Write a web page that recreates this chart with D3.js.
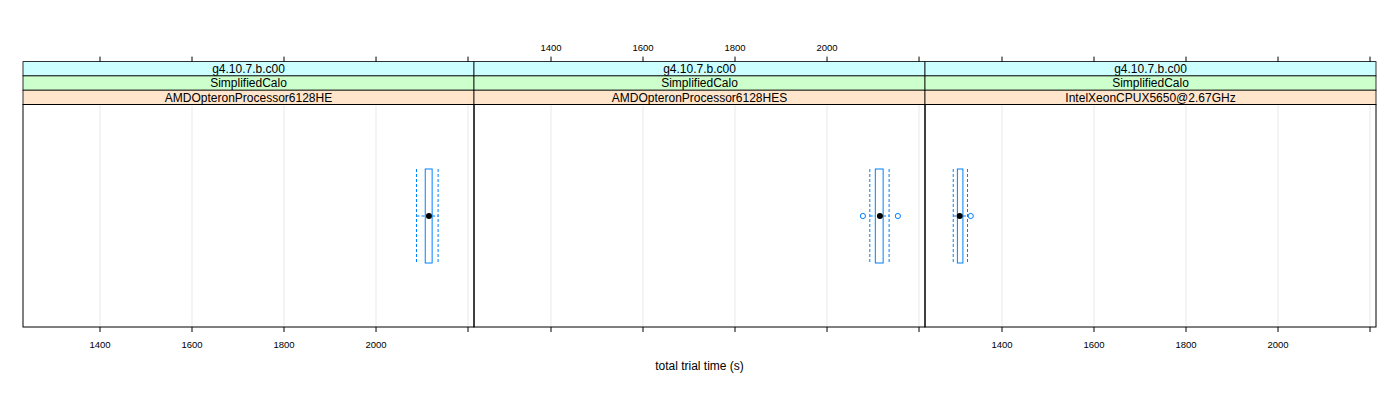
<!DOCTYPE html>
<html>
<head>
<meta charset="utf-8">
<script src="https://d3js.org/d3.v7.min.js"></script>
<style>
  body { margin: 0; background: #fff; }
  text { font-family: "Liberation Sans", Arial, sans-serif; }
</style>
</head>
<body>
<svg id="vis"></svg>
<script>
  // strip labels (top to bottom) for each panel
  var versions = ["g4.10.7.b.c00", "g4.10.7.b.c00", "g4.10.7.b.c00"];
  var apps = ["SimplifiedCalo", "SimplifiedCalo", "SimplifiedCalo"];
  var cpus = ["AMDOpteronProcessor6128HE", "AMDOpteronProcessor6128HES", "IntelXeonCPUX5650@2.67GHz"];

  // box statistics per panel: lower whisker, Q1, median, Q3, upper whisker
  var lowerWhisker = [2088, 2093, 1294];
  var q1 = [2107, 2105, 1303];
  var medians = [2115, 2115, 1308];
  var q3 = [2122, 2122, 1315];
  var upperWhisker = [2135, 2135, 1325];
  var outliers = [[], [2078, 2154], [1332]];

  var tickValues = [1400, 1600, 1800, 2000, 2200];
  var labelValues = [1400, 1600, 1800, 2000];

  var W = 1400, H = 400;
  var left = 23, panelW = 451, plotTop = 104.5, plotBottom = 327;
  var stripH = 14.3;
  var blue = "#0080ff";

  var svg = d3.select("#vis").attr("width", W).attr("height", H);

  var x = d3.scaleLinear().domain([1232.6, 2213]).range([0, panelW]);

  cpus.forEach(function(cpu, i) {
    var g = svg.append("g").attr("transform", "translate(" + (left + i * panelW) + ",0)");

    // grid
    g.selectAll(".grid").data(tickValues).enter().append("line")
      .attr("x1", function(d) { return x(d); }).attr("x2", function(d) { return x(d); })
      .attr("y1", plotTop).attr("y2", plotBottom)
      .attr("stroke", "#e9e9e9").attr("stroke-width", 1);

    // strips
    var labels = [versions[i], apps[i], cpu];
    var cols = ["#ccffff", "#ccffcc", "#ffe5cc"];
    labels.forEach(function(lab, k) {
      var y0 = plotTop - (3 - k) * stripH;
      g.append("rect").attr("x", 0).attr("y", y0).attr("width", panelW).attr("height", stripH)
        .attr("fill", cols[k]).attr("stroke", "#000").attr("stroke-width", 0.8);
      g.append("text").attr("x", panelW / 2).attr("y", y0 + stripH / 2 + 4.2)
        .attr("text-anchor", "middle").attr("font-size", 12).text(lab);
    });

    // panel border
    g.append("rect").attr("x", 0).attr("y", plotTop).attr("width", panelW).attr("height", plotBottom - plotTop)
      .attr("fill", "none").attr("stroke", "#000").attr("stroke-width", 1);

    // ticks top and bottom
    var stripTop = plotTop - 3 * stripH;
    g.selectAll(".tt").data(tickValues).enter().append("line")
      .attr("x1", function(d) { return x(d); }).attr("x2", function(d) { return x(d); })
      .attr("y1", stripTop - 5).attr("y2", stripTop).attr("stroke", "#000");
    g.selectAll(".tb").data(tickValues).enter().append("line")
      .attr("x1", function(d) { return x(d); }).attr("x2", function(d) { return x(d); })
      .attr("y1", plotBottom).attr("y2", plotBottom + 5).attr("stroke", "#000");

    var labY = (i % 2 === 0) ? plotBottom + 21 : stripTop - 11;
    g.selectAll(".tl").data(labelValues).enter().append("text")
      .attr("x", function(d) { return x(d); }).attr("y", labY)
      .attr("text-anchor", "middle").attr("font-size", 9.5).text(function(d) { return d; });

    // box and whiskers
    var yc = 216, bh = 47;
    g.append("line").attr("x1", x(lowerWhisker[i])).attr("x2", x(q1[i]))
      .attr("y1", yc).attr("y2", yc).attr("stroke", blue).attr("stroke-dasharray", "3,2");
    g.append("line").attr("x1", x(q3[i])).attr("x2", x(upperWhisker[i]))
      .attr("y1", yc).attr("y2", yc).attr("stroke", blue).attr("stroke-dasharray", "3,2");
    [lowerWhisker[i], upperWhisker[i]].forEach(function(v) {
      g.append("line").attr("x1", x(v)).attr("x2", x(v))
        .attr("y1", yc - bh).attr("y2", yc + bh)
        .attr("stroke", blue).attr("stroke-dasharray", "3,2");
    });
    g.append("rect").attr("x", x(q1[i])).attr("y", yc - bh)
      .attr("width", x(q3[i]) - x(q1[i])).attr("height", 2 * bh)
      .attr("fill", "none").attr("stroke", blue).attr("stroke-width", 1);
    g.append("circle").attr("cx", x(medians[i])).attr("cy", yc).attr("r", 3).attr("fill", "#000");
    g.selectAll(".out").data(outliers[i]).enter().append("circle")
      .attr("cx", function(d) { return x(d); }).attr("cy", yc).attr("r", 2.6)
      .attr("fill", "none").attr("stroke", blue).attr("stroke-width", 1);
  });

  svg.append("text").attr("x", left + 1.5 * panelW).attr("y", 370)
    .attr("text-anchor", "middle").attr("font-size", 12).text("total trial time (s)");
</script>
</body>
</html>
